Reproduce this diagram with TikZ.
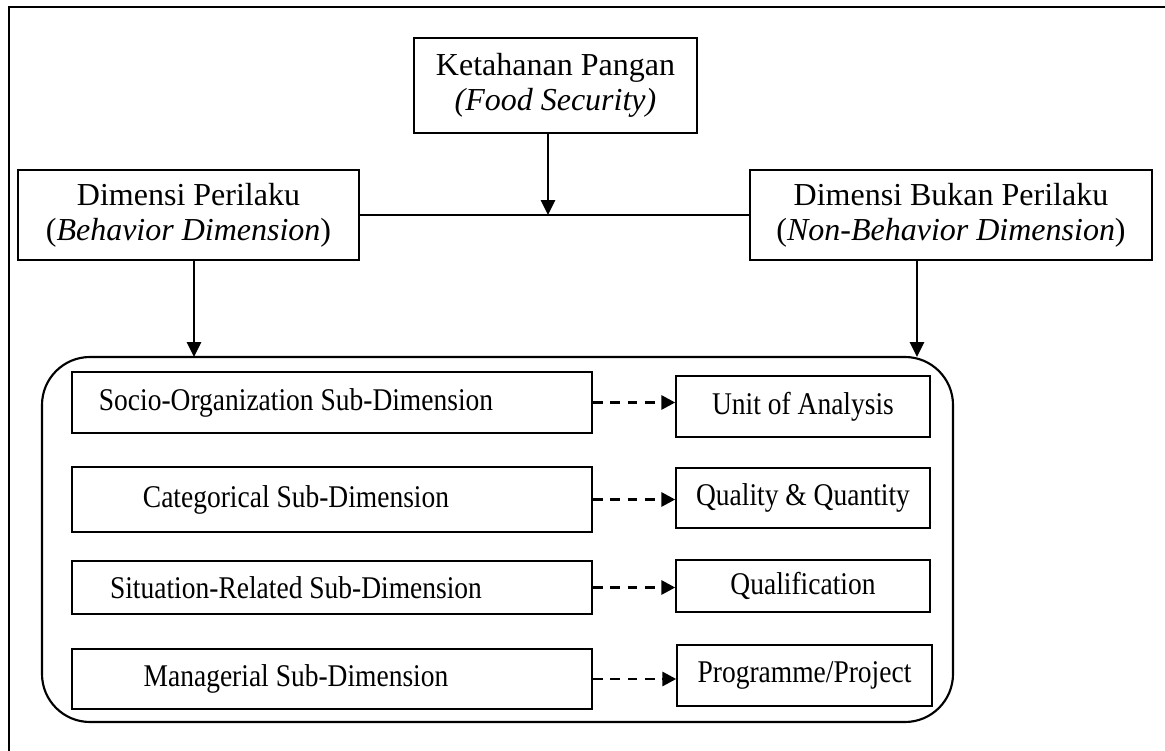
\documentclass[tikz,border=0pt]{standalone}
\usepackage{fontspec}
\setmainfont{Liberation Serif}
\newfontfamily\subfont[FakeStretch=0.87]{Liberation Serif}
\usepackage{tikz}
\usetikzlibrary{arrows.meta}
\newcommand{\pxu}{0.375pt}
\tikzstyle{topbox} = [draw, line width=0.65pt, align=center, inner sep=0pt, font=\fontsize{12}{13}\selectfont]
\tikzstyle{subbox} = [draw, line width=0.65pt, inner sep=0pt, font=\subfont\fontsize{11.85}{13}\selectfont]
\tikzstyle{leftbox} = [subbox, minimum width=520*\pxu, execute at end node={\hspace{27pt}}]
\tikzstyle{arrow} = [line width=0.8pt, -{Triangle[length=5.6pt,width=5.3pt]}]
\tikzstyle{dasharrow} = [line width=0.8pt, dash pattern=on 3.7pt off 2.8pt, -{Triangle[length=5.2pt,width=5.4pt]}]

\begin{document}
\begin{tikzpicture}[x=\pxu, y=-\pxu]
        \useasboundingbox (0,0) rectangle (1165,751);
        % frame
        \draw[line width=0.6pt] (9,751) -- (9,7) -- (1165,7);

        % Top level
        \node[topbox, minimum width=283*\pxu, minimum height=95*\pxu] (food) at (555.5,85.5)
            {Ketahanan Pangan\\\textit{(Food Security)}};
        \node[topbox, minimum width=341*\pxu, minimum height=90*\pxu] (beh) at (188.5,215)
            {Dimensi Perilaku\\(\textit{Behavior Dimension})};
        \node[topbox, minimum width=402*\pxu, minimum height=90*\pxu] (nbeh) at (951,215)
            {Dimensi Bukan Perilaku\\(\textit{Non-Behavior Dimension})};

        % Sub-dimension group
        \node[draw, line width=0.8pt, rounded corners=18pt, minimum width=911*\pxu, minimum height=365*\pxu] (grp) at (497.5,539.5) {};

        \node[leftbox, minimum height=61*\pxu] (s1) at (332,402.5) {Socio-Organization Sub-Dimension};
        \node[leftbox, minimum height=65*\pxu] (s2) at (332,499.5) {Categorical Sub-Dimension};
        \node[leftbox, minimum height=53*\pxu] (s3) at (332,587.5) {Situation-Related Sub-Dimension};
        \node[leftbox, minimum height=60*\pxu] (s4) at (332,679) {Managerial Sub-Dimension};

        \node[subbox, minimum width=254*\pxu, minimum height=61*\pxu] (r1) at (803,406.5) {Unit of Analysis};
        \node[subbox, minimum width=254*\pxu, minimum height=60*\pxu] (r2) at (803,498) {Quality \& Quantity};
        \node[subbox, minimum width=254*\pxu, minimum height=52*\pxu] (r3) at (803,586) {Qualification};
        \node[subbox, minimum width=255*\pxu, minimum height=61*\pxu] (r4) at (804.5,675.5) {Programme/Project};

        % connectors
        \coordinate (junc) at (548,215);
        \coordinate (bin) at (194,357);
        \coordinate (nbin) at (917,357);
        \draw[line width=0.6pt] (beh) -- (nbeh);
        \draw[arrow] (food.south -| junc) -- (junc);
        \draw[arrow] (beh.south -| bin) -- (bin);
        \draw[arrow] (nbeh.south -| nbin) -- (nbin);

        \foreach \i in {1,...,4}
            \draw[dasharrow] (s\i.east) -- (s\i.east -| r\i.west);
\end{tikzpicture}
\end{document}
